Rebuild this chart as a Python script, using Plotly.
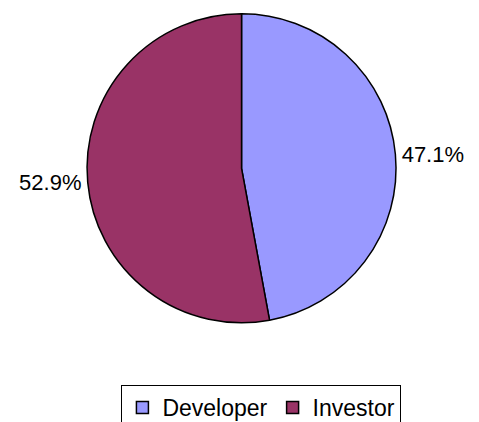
import plotly.graph_objects as go

categories = ["Developer", "Investor"]
values = [47.1, 52.9]
colors = ["#9999FF", "#993366"]

W, H = 479, 422
cx, cy, r = 232, 165, 159

fig = go.Figure(go.Pie(
    labels=categories,
    values=values,
    sort=False,
    direction="clockwise",
    rotation=0,
    marker=dict(colors=colors, line=dict(color="black", width=1.5)),
    textposition="outside",
    texttemplate="%{percent:.1%}",
    textfont=dict(size=22, color="black"),
    hoverinfo="label+percent",
    domain=dict(x=[(cx - r) / W, (cx + r) / W], y=[1 - (cy + r) / H, 1 - (cy - r) / H]),
))

fig.update_layout(
    width=W, height=H,
    margin=dict(l=0, r=0, t=0, b=0),
    paper_bgcolor="white",
    plot_bgcolor="white",
    font=dict(family="Liberation Sans, Arial, sans-serif", color="black", size=20),
    showlegend=True,
    legend=dict(
        orientation="h",
        x=252 / W, xanchor="center",
        y=1 - 388 / H, yanchor="top",
        bordercolor="black", borderwidth=1,
        font=dict(size=23),
        itemwidth=30,
        tracegroupgap=0,
    ),
)

fig.write_html("out.html")
